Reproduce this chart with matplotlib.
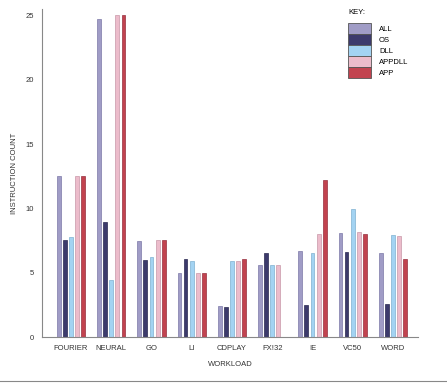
import matplotlib
matplotlib.use("Agg")
import matplotlib.pyplot as plt
import numpy as np
from matplotlib.lines import Line2D
from matplotlib.patches import Patch

plt.rcParams['font.family'] = ['Liberation Sans', 'DejaVu Sans']

workloads = ["FOURIER", "NEURAL", "GO", "LI", "CDPLAY", "FX!32", "IE", "VC50", "WORD"]
series_names = ["ALL", "OS", "DLL", "APPDLL", "APP"]
all_vals    = [12.5, 24.7, 7.45, 4.95, 2.4, 5.6, 6.7, 8.1, 6.5]
os_vals     = [7.55, 8.95, 6.0, 6.05, 2.3, 6.5, 2.5, 6.6, 2.6]
dll_vals    = [7.8, 4.45, 6.2, 5.9, 5.95, 5.6, 6.55, 9.95, 7.9]
appdll_vals = [12.5, 25.0, 7.55, 4.95, 5.95, 5.6, 8.0, 8.2, 7.85]
app_vals    = [12.5, 25.0, 7.55, 4.95, 6.05, 0.0, 12.2, 8.0, 6.05]

colors = ["#a09cc6", "#3c3a6c", "#a3d3f2", "#ecbccb", "#c2434f"]
edges = ["#7d79a8", "#2a2850", "#7fb0d0", "#c898a8", "#963040"]

fig = plt.figure(figsize=(4.47, 3.87), dpi=100)
ax = fig.add_axes([0.094, 0.129, 0.841, 0.848])

x = np.arange(len(workloads))
pitch = 0.153
width = 0.095
data = [all_vals, os_vals, dll_vals, appdll_vals, app_vals]
for i, vals in enumerate(data):
    ax.bar(x + (i - 2) * pitch, vals, width, color=colors[i], edgecolor=edges[i], linewidth=0.5)

ax.set_xlim(-0.72, len(workloads) - 1 + 0.62)
ax.set_ylim(0, 25.5)
ax.set_yticks([0, 5, 10, 15, 20, 25])
ax.set_xticks(x)
ax.set_xticklabels(workloads)
ax.tick_params(axis='both', length=0, labelsize=5.5, colors="#333333", pad=6)
for s in ["top", "right"]:
    ax.spines[s].set_visible(False)
for s in ["left", "bottom"]:
    ax.spines[s].set_color("#888888")
    ax.spines[s].set_linewidth(0.8)
ax.set_xlabel("WORKLOAD", fontsize=5.5, color="#333333", labelpad=6)
ax.set_ylabel("INSTRUCTION COUNT", fontsize=5.5, color="#333333", labelpad=5)

handles = [Patch(facecolor=colors[i], edgecolor="#555555", linewidth=0.6) for i in range(5)]
leg = ax.legend(handles, series_names, title="KEY:", loc="upper left",
                bbox_to_anchor=(0.815, 1.0), frameon=False, fontsize=5.5,
                title_fontsize=5.5, handlelength=3.0, handleheight=1.85,
                labelspacing=0.0, handletextpad=1.0, borderaxespad=0,
                borderpad=0)
leg._legend_box.align = "left"
leg._legend_box.sep = 5

fig.add_artist(Line2D([0.0, 1.0], [0.016, 0.016], color="#888888", linewidth=0.8))

fig.savefig("out.png", dpi=100)
